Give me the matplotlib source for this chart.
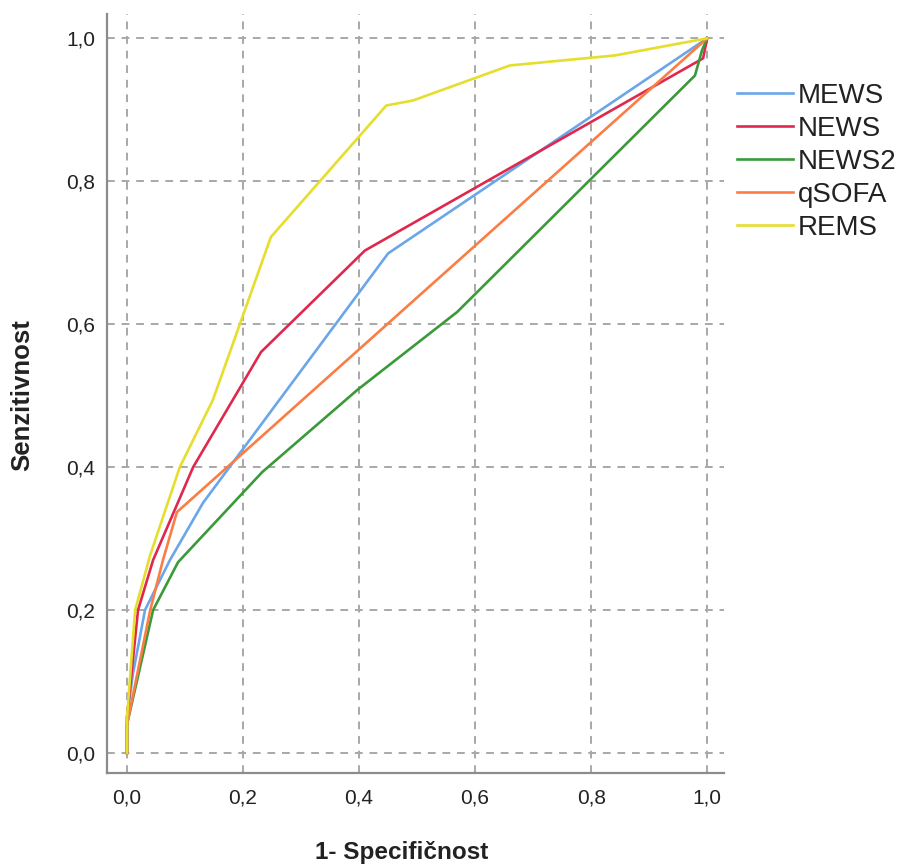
import matplotlib
matplotlib.use("Agg")
import matplotlib.pyplot as plt
from matplotlib.ticker import FuncFormatter

plt.rcParams['font.family'] = ['Liberation Sans', 'DejaVu Sans']

# ROC curve points (1 - specificity, sensitivity)
mews_x = [0.0, 0.0, 0.010, 0.031, 0.074, 0.131, 0.450, 1.0]
mews_y = [0.0, 0.05, 0.110, 0.200, 0.270, 0.350, 0.699, 1.0]

news_x = [0.0, 0.0, 0.019, 0.045, 0.114, 0.231, 0.410, 0.993, 1.0]
news_y = [0.0, 0.05, 0.200, 0.270, 0.400, 0.561, 0.703, 0.972, 1.0]

news2_x = [0.0, 0.0, 0.045, 0.088, 0.233, 0.397, 0.569, 0.979, 0.991, 1.0]
news2_y = [0.0, 0.04, 0.200, 0.267, 0.393, 0.508, 0.617, 0.948, 0.983, 1.0]

qsofa_x = [0.0, 0.0, 0.040, 0.062, 0.086, 1.0]
qsofa_y = [0.0, 0.04, 0.200, 0.270, 0.337, 1.0]

rems_x = [0.0, 0.0, 0.014, 0.040, 0.091, 0.148, 0.248, 0.447, 0.493, 0.660, 0.841, 1.0]
rems_y = [0.0, 0.05, 0.200, 0.277, 0.400, 0.494, 0.722, 0.906, 0.913, 0.962, 0.976, 1.0]

series = [
    ("MEWS", mews_x, mews_y, "#6aa6ea"),
    ("NEWS", news_x, news_y, "#e0284e"),
    ("NEWS2", news2_x, news2_y, "#3a9a3a"),
    ("qSOFA", qsofa_x, qsofa_y, "#fb7d45"),
    ("REMS", rems_x, rems_y, "#e6de2c"),
]

ticks = [0.0, 0.2, 0.4, 0.6, 0.8, 1.0]

fig = plt.figure(figsize=(9, 8.66), dpi=100)
ax = fig.add_axes([107 / 900, 1 - 773 / 866, (724 - 107) / 900, (773 - 14) / 866])

for name, xs, ys, col in series:
    ax.plot(xs, ys, color=col, lw=1.9, label=name, solid_joinstyle='round')

ax.set_xlim(-0.0345, 1.029)
ax.set_ylim(-0.028, 1.034)
ax.set_xticks(ticks)
ax.set_yticks(ticks)
fmt = FuncFormatter(lambda v, p: f"{v:.1f}".replace('.', ','))
ax.xaxis.set_major_formatter(fmt)
ax.yaxis.set_major_formatter(fmt)
ax.tick_params(length=0, labelsize=15, colors='#222222')
ax.tick_params(axis='x', pad=11)
ax.tick_params(axis='y', pad=8.5)

ax.grid(True, color='#a8a8a8', lw=1.4, ls=(0, (4, 3.5)))
ax.set_axisbelow(True)

for s in ['top', 'right']:
    ax.spines[s].set_visible(False)
for s in ['left', 'bottom']:
    ax.spines[s].set_color('#8c8c8c')
    ax.spines[s].set_linewidth(1.6)

fig.text(402 / 900, 1 - 852 / 866, "1- Specifičnost", ha='center', va='center',
         fontsize=17.5, fontweight='bold', color='#222222')
fig.text(22 / 900, 1 - 395 / 866, "Senzitivnost", ha='center', va='center',
         rotation=90, fontsize=18.5, fontweight='bold', color='#222222')

leg = fig.legend(loc='upper left', bbox_to_anchor=(737 / 900, 1 - 83 / 866),
                 frameon=False, fontsize=20, handlelength=2.0, handletextpad=0.18,
                 labelspacing=0.25, borderpad=0, borderaxespad=0)
for t in leg.get_texts():
    t.set_color('#222222')

fig.savefig("out.png", dpi=100)
